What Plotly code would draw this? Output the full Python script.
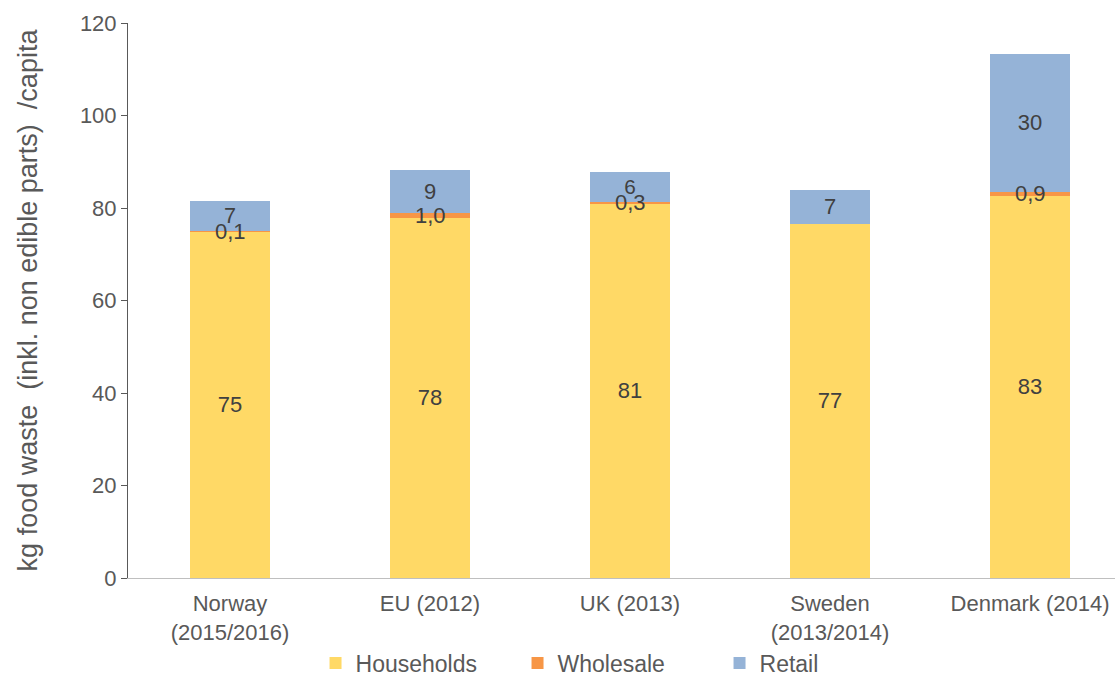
import plotly.graph_objects as go

categories = ["Norway<br>(2015/2016)", "EU (2012)", "UK (2013)", "Sweden<br>(2013/2014)", "Denmark (2014)"]
households = [74.9, 77.9, 81.0, 76.6, 82.6]
wholesale = [0.1, 1.0, 0.3, None, 0.9]
retail = [6.6, 9.3, 6.4, 7.3, 29.8]
y_ticks = [0, 20, 40, 60, 80, 100, 120]
y_title = "kg food waste\u00a0 (inkl. non edible parts)\u00a0 /capita"

FONT = "Liberation Sans, Arial, sans-serif"
TXT = "#404040"
TICK = "#595959"

def fmt0(v):
    return "" if v is None else f"{v:.0f}"

def fmt1(v):
    return "" if v is None else f"{v:.1f}".replace(".", ",")

fig = go.Figure()
fig.add_trace(go.Bar(
    name="Households", x=categories, y=households,
    marker=dict(color="#FFD966", line=dict(width=0)),
    text=[fmt0(v) for v in households], textposition="inside",
    insidetextanchor="middle", textangle=0,
    textfont=dict(family=FONT, size=22, color=TXT),
))
fig.add_trace(go.Bar(
    name="Wholesale", x=categories, y=[0 if v is None else v for v in wholesale],
    marker=dict(color="#F79646", line=dict(width=0)),
    textposition="none",
))
fig.add_trace(go.Bar(
    name="Retail", x=categories, y=retail,
    marker=dict(color="#95B3D7", line=dict(width=0)),
    text=[fmt0(v) for v in retail], textposition="inside",
    insidetextanchor="middle", textangle=0,
    textfont=dict(family=FONT, size=22, color=TXT),
))

for c, h, w in zip(categories, households, wholesale):
    if w is None:
        continue
    fig.add_annotation(x=c, y=h + w / 2, text=fmt1(w), showarrow=False,
                       font=dict(family=FONT, size=22, color=TXT),
                       xanchor="center", yanchor="middle")

fig.update_layout(
    barmode="stack",
    bargap=0.6,
    width=1115, height=678,
    margin=dict(l=128, r=0, t=23, b=100, autoexpand=False),
    paper_bgcolor="white", plot_bgcolor="white",
    font=dict(family=FONT, size=22, color=TICK),
    showlegend=True,
    legend=dict(orientation="h", x=0.19, xanchor="left",
                y=0.022, yref="container", yanchor="middle",
                bgcolor="rgba(0,0,0,0)",
                font=dict(family=FONT, size=23, color=TICK),
                entrywidth=157, entrywidthmode="pixels", traceorder="normal",
                itemclick=False),
    xaxis=dict(range=[-0.51, 4.425], showline=True, linecolor="#BFBFBF", linewidth=1,
               ticks="outside", ticklen=6, tickcolor="rgba(0,0,0,0)",
               tickfont=dict(family=FONT, size=22, color=TICK),
               showgrid=False, zeroline=False),
    yaxis=dict(range=[0, 120], tickvals=y_ticks, showline=True, linecolor="#595959",
               linewidth=1, ticks="outside", ticklen=6, tickcolor="#595959",
               tickfont=dict(family=FONT, size=22, color=TICK), showgrid=False,
               zeroline=False,
               title=dict(text=y_title,
                          font=dict(family=FONT, size=27, color=TICK), standoff=34)),
)

fig.write_html("out.html")
